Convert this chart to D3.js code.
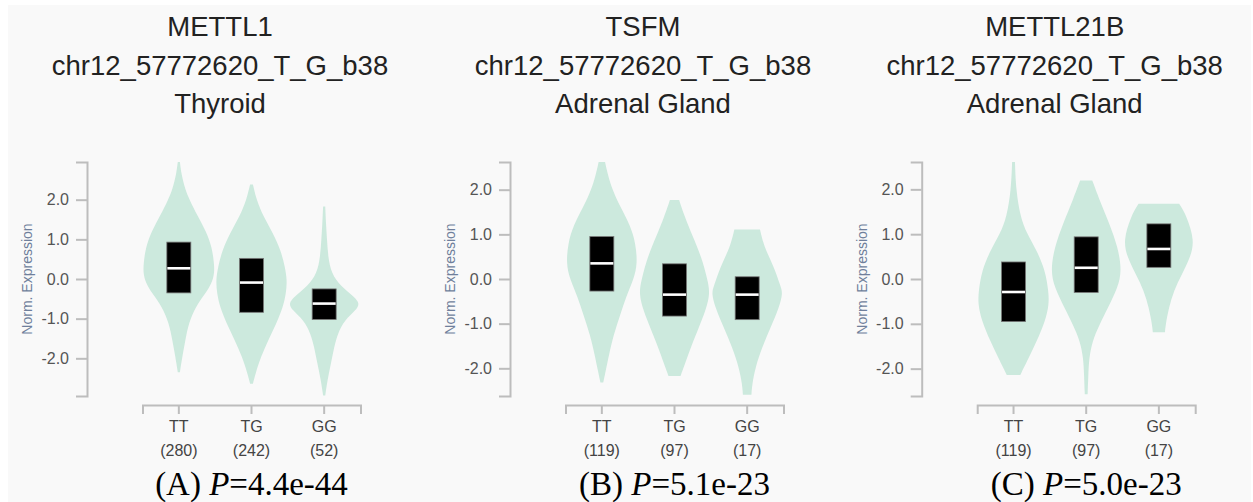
<!DOCTYPE html>
<html>
<head>
<meta charset="utf-8">
<script src="https://cdn.jsdelivr.net/npm/d3@7"></script>
<style>
    body { margin: 0; background: #fff; }
    svg { display: block; font-family: "Liberation Sans", Arial, sans-serif; }
</style>
</head>
<body>
<div id="chart"></div>
<script>
// --- data ---
const genes = ["METTL1", "TSFM", "METTL21B"];
const variantId = "chr12_57772620_T_G_b38";
const tissues = ["Thyroid", "Adrenal Gland", "Adrenal Gland"];
const panelTags = ["(A)", "(B)", "(C)"];
const pValues = ["4.4e-44", "5.1e-23", "5.0e-23"];
const genotypes = ["TT", "TG", "GG"];
const sampleCounts = [[280, 242, 52], [119, 97, 17], [119, 97, 17]];
const yTicks = [2, 1, 0, -1, -2];

// box stats per panel, genotype order TT, TG, GG
const q3 = [[0.93, 0.52, -0.25], [0.95, 0.34, 0.05], [0.38, 0.94, 1.23]];
const medians = [[0.27, -0.09, -0.62], [0.35, -0.35, -0.35], [-0.29, 0.25, 0.67]];
const q1 = [[-0.35, -0.84, -1.02], [-0.27, -0.83, -0.91], [-0.95, -0.30, 0.26]];

// violin outlines: [norm. expression, relative density], top to bottom
const violinsA = [
    [[2.95,0.03],[2.65,0.07],[2.25,0.18],[2.0,0.3],[1.6,0.52],[1.2,0.77],[0.8,0.93],[0.4,0.99],[0.15,1.0],[-0.1,0.93],[-0.36,0.75],[-0.7,0.47],[-1.1,0.28],[-1.55,0.18],[-1.95,0.1],[-2.35,0.03]],
    [[2.38,0.04],[2.0,0.14],[1.58,0.33],[1.16,0.6],[0.73,0.82],[0.31,0.94],[-0.03,1.0],[-0.36,0.97],[-0.7,0.89],[-1.12,0.7],[-1.54,0.47],[-1.97,0.26],[-2.39,0.11],[-2.64,0.04]],
    [[1.83,0.03],[1.41,0.05],[0.99,0.08],[0.57,0.11],[0.14,0.2],[-0.19,0.47],[-0.45,0.85],[-0.62,1.0],[-0.78,0.9],[-1.04,0.57],[-1.38,0.38],[-1.71,0.28],[-2.14,0.19],[-2.56,0.09],[-2.94,0.03]]
];
const violinsB = [
    [[2.62,0.09],[2.3,0.18],[2.0,0.3],[1.64,0.5],[1.2,0.8],[0.8,0.95],[0.35,1.0],[0.0,0.9],[-0.4,0.68],[-0.8,0.52],[-1.25,0.33],[-1.7,0.2],[-2.05,0.11],[-2.32,0.04]],
    [[1.77,0.13],[1.41,0.28],[0.96,0.51],[0.51,0.75],[-0.02,0.93],[-0.32,1.0],[-0.7,0.88],[-1.15,0.65],[-1.61,0.42],[-1.98,0.26],[-2.17,0.17]],
    [[1.11,0.36],[0.73,0.47],[0.28,0.75],[-0.17,0.94],[-0.32,1.0],[-0.63,0.9],[-1.08,0.66],[-1.53,0.42],[-1.98,0.23],[-2.36,0.14],[-2.59,0.12]]
];
const violinsC = [
    [[2.61,0.04],[1.99,0.07],[1.39,0.19],[1.02,0.37],[0.64,0.65],[0.19,0.89],[-0.26,0.98],[-0.56,1.0],[-0.94,0.89],[-1.39,0.65],[-1.77,0.42],[-2.14,0.19]],
    [[2.2,0.17],[1.77,0.37],[1.24,0.65],[0.71,0.89],[0.19,1.0],[-0.19,0.89],[-0.64,0.61],[-1.02,0.37],[-1.39,0.17],[-1.77,0.08],[-2.14,0.06],[-2.57,0.04]],
    [[1.68,0.57],[1.39,0.79],[0.86,1.0],[0.49,0.89],[0.11,0.65],[-0.26,0.42],[-0.64,0.28],[-1.02,0.19],[-1.19,0.17]]
];
const violins = [violinsA, violinsB, violinsC];

// --- layout ---
const width = 1253, height = 502;
const axisXs = [87, 510, 921.7];   // y axis position of each panel
const plotTop = 162, plotBottom = 396;
const xAxisY = 405;
const violinColor = "#cce9dd";
const axisColor = "#bdbdbd";

const svg = d3.select("#chart").append("svg")
    .attr("width", width)
    .attr("height", height);

svg.append("rect").attr("width", width).attr("height", height).attr("fill", "#fff");
svg.append("rect")
    .attr("x", 8).attr("y", 5)
    .attr("width", width - 10).attr("height", height - 5)
    .attr("fill", "#f9f9f9");

function styleAxis(g) {
    g.select(".domain").attr("stroke", axisColor).attr("stroke-width", 2);
    g.selectAll(".tick line").attr("stroke", axisColor).attr("stroke-width", 2);
}

genes.forEach((gene, p) => {
    const ax = axisXs[p];
    const panel = svg.append("g").attr("class", "panel");

    // titles
    const titleLines = [gene, variantId, tissues[p]];
    panel.selectAll("text.title")
        .data(titleLines)
        .join("text")
        .attr("class", "title")
        .attr("x", ax + 133)
        .attr("y", (d, i) => 36 + i * 38.5)
        .attr("text-anchor", "middle")
        .attr("font-size", 27.5)
        .attr("fill", "#222")
        .text(d => d);

    // scales
    const extent = d3.max(violins[p].flat(), d => Math.abs(d[0]));
    const y = d3.scaleLinear().domain([-extent, extent]).range([plotBottom, plotTop]);
    const x = d3.scaleBand().domain(genotypes).range([ax + 55.5, ax + 273.5]);
    const maxHalf = x.bandwidth() * 0.49;

    // y axis
    panel.append("g")
        .attr("transform", `translate(${ax},0)`)
        .call(d3.axisLeft(y).tickValues(yTicks).tickFormat(d => d.toFixed(1)).tickSize(11).tickPadding(7))
        .call(styleAxis)
        .call(g => g.selectAll(".tick text")
            .attr("font-size", 16)
            .attr("fill", "#555")
            .attr("font-family", "Liberation Sans, Arial, sans-serif"));

    panel.append("text")
        .attr("transform", `translate(${ax - 60},${y(0)}) rotate(-90)`)
        .attr("text-anchor", "middle")
        .attr("dy", "0.35em")
        .attr("font-size", 14)
        .attr("fill", "#6f7f9b")
        .text("Norm. Expression");

    // x axis
    const xAxis = panel.append("g")
        .attr("transform", `translate(0,${xAxisY})`)
        .call(d3.axisBottom(x).tickSize(9).tickFormat(() => ""))
        .call(styleAxis);

    xAxis.selectAll(".tick").each(function(d, i) {
        const t = d3.select(this);
        t.append("text")
            .attr("y", 27)
            .attr("text-anchor", "middle")
            .attr("font-size", 16)
            .attr("fill", "#444")
            .attr("font-family", "Liberation Sans, Arial, sans-serif")
            .text(d);
        t.append("text")
            .attr("y", 51)
            .attr("text-anchor", "middle")
            .attr("font-size", 16)
            .attr("fill", "#444")
            .attr("font-family", "Liberation Sans, Arial, sans-serif")
            .text(`(${sampleCounts[p][i]})`);
    });

    // violins
    const groups = panel.selectAll("g.violin")
        .data(genotypes)
        .join("g")
        .attr("class", "violin");

    groups.append("path")
        .attr("fill", violinColor)
        .attr("d", (g, i) => {
            const cx = x(g) + x.bandwidth() / 2;
            return d3.area()
                .curve(d3.curveBasis)
                .y(d => y(d[0]))
                .x0(d => cx - d[1] * maxHalf)
                .x1(d => cx + d[1] * maxHalf)(violins[p][i]);
        });

    // boxes
    groups.append("rect")
        .attr("x", g => x(g) + x.bandwidth() / 2 - 12)
        .attr("width", 24)
        .attr("y", (g, i) => y(q3[p][i]))
        .attr("height", (g, i) => y(q1[p][i]) - y(q3[p][i]))
        .attr("fill", "#000")
        .attr("stroke", "#777")
        .attr("stroke-width", 0.8);

    groups.append("line")
        .attr("x1", g => x(g) + x.bandwidth() / 2 - 11.5)
        .attr("x2", g => x(g) + x.bandwidth() / 2 + 11.5)
        .attr("y1", (g, i) => y(medians[p][i]))
        .attr("y2", (g, i) => y(medians[p][i]))
        .attr("stroke", "#fff")
        .attr("stroke-width", 2.6);

    // caption
    const [r0, r1] = x.range();
    const cap = panel.append("text")
        .attr("x", (r0 + r1) / 2)
        .attr("y", 495)
        .attr("text-anchor", "middle")
        .attr("font-family", "Liberation Serif, 'Times New Roman', serif")
        .attr("font-size", 33)
        .attr("fill", "#000");
    cap.append("tspan").text(panelTags[p] + " ");
    cap.append("tspan").attr("font-style", "italic").text("P");
    cap.append("tspan").text("=" + pValues[p]);
});
</script>
</body>
</html>
